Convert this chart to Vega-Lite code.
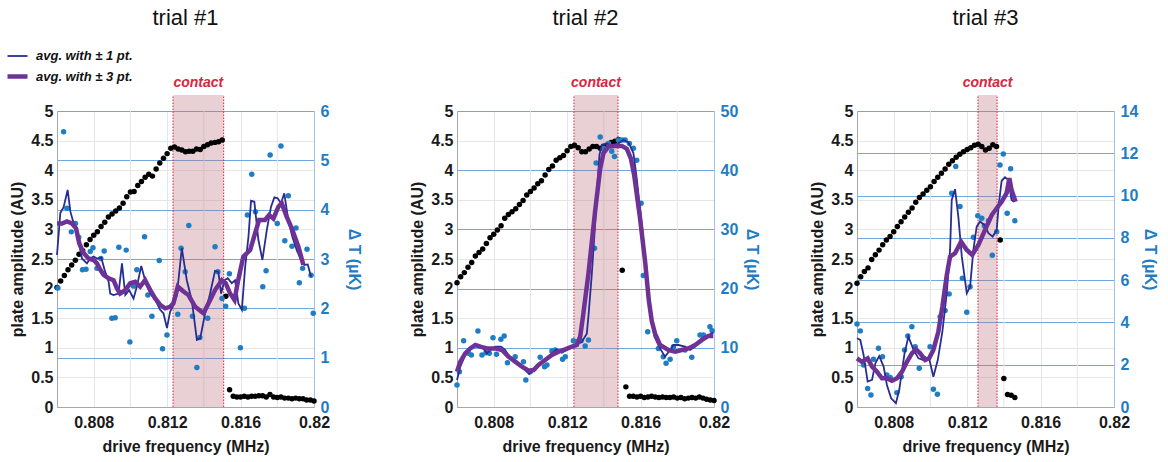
{
"$schema": "https://vega.github.io/schema/vega-lite/v6.json",
"padding": {"left": 5, "top": 6, "right": 0, "bottom": 0},
"spacing": 143,
"bounds": "flush",
"config": {
  "font": "Liberation Sans",
  "view": {"stroke": "#c8c8c8", "strokeWidth": 1},
  "axis": {"labelFontSize": 16, "labelFontWeight": "bold", "titleFontSize": 16, "titleFontWeight": "bold", "labelColor": "#1a1a1a", "titleColor": "#1a1a1a", "ticks": false, "gridColor": "#e6e6e6", "domainColor": "#a8a8a8", "labelOverlap": false, "labelFlush": false},
  "title": {"fontSize": 22, "fontWeight": "normal", "font": "Liberation Sans", "color": "#111111", "offset": 46}
},
"datasets": {
 "g": [{"f": 0.81}, {"f": 0.814}, {"f": 0.818}],
 "c1": [{"f0": 0.81232, "f1": 0.81508}],
 "r1": [{"f": 0.81232}, {"f": 0.81508}],
 "t1": [{"f": 0.8137, "y": 5.47, "t": "contact"}],
 "c2": [{"f0": 0.81237, "f1": 0.81477}],
 "r2": [{"f": 0.81237}, {"f": 0.81477}],
 "t2": [{"f": 0.81357, "y": 5.47, "t": "contact"}],
 "c3": [{"f0": 0.81259, "f1": 0.81363}],
 "r3": [{"f": 0.81259}, {"f": 0.81363}],
 "t3": [{"f": 0.81311, "y": 5.47, "t": "contact"}],
 "a1": [
  {"f":0.8060,"a":2.02},{"f":0.8062,"a":2.13},{"f":0.8064,"a":2.22},{"f":0.8066,"a":2.32},{"f":0.8068,"a":2.40},{"f":0.8070,"a":2.48},{"f":0.8072,"a":2.58},{"f":0.8074,"a":2.64},{"f":0.8076,"a":2.74},{"f":0.8078,"a":2.83},{"f":0.8080,"a":2.90},{"f":0.8082,"a":2.96},{"f":0.8084,"a":3.05},{"f":0.8086,"a":3.12},{"f":0.8088,"a":3.21},{"f":0.8090,"a":3.26},{"f":0.8092,"a":3.31},{"f":0.8094,"a":3.36},{"f":0.8096,"a":3.44},{"f":0.8098,"a":3.55},{"f":0.8100,"a":3.63},{"f":0.8102,"a":3.64},{"f":0.8104,"a":3.74},{"f":0.8106,"a":3.81},{"f":0.8108,"a":3.88},{"f":0.8110,"a":3.93},{"f":0.8112,"a":3.90},{"f":0.8114,"a":4.02},{"f":0.8116,"a":4.12},{"f":0.8118,"a":4.20},{"f":0.8120,"a":4.28},{"f":0.8122,"a":4.37},{"f":0.8124,"a":4.39},{"f":0.8126,"a":4.36},{"f":0.8128,"a":4.34},{"f":0.8130,"a":4.31},{"f":0.8132,"a":4.32},{"f":0.8134,"a":4.32},{"f":0.8136,"a":4.36},{"f":0.8138,"a":4.35},{"f":0.8140,"a":4.40},{"f":0.8142,"a":4.43},{"f":0.8144,"a":4.46},{"f":0.8146,"a":4.47},{"f":0.8148,"a":4.48},{"f":0.8150,"a":4.51},{"f":0.8152,"a":1.87},{"f":0.8154,"a":0.29},
  {"f":0.8156,"a":0.18},{"f":0.8158,"a":0.17},{"f":0.8160,"a":0.17},{"f":0.8162,"a":0.18},{"f":0.8164,"a":0.17},{"f":0.8166,"a":0.18},{"f":0.8168,"a":0.18},{"f":0.8170,"a":0.19},{"f":0.8172,"a":0.19},{"f":0.8174,"a":0.17},{"f":0.8176,"a":0.21},{"f":0.8178,"a":0.17},{"f":0.8180,"a":0.16},{"f":0.8182,"a":0.17},{"f":0.8184,"a":0.15},{"f":0.8186,"a":0.15},{"f":0.8188,"a":0.14},{"f":0.8190,"a":0.15},{"f":0.8192,"a":0.14},{"f":0.8194,"a":0.14},{"f":0.8196,"a":0.12},{"f":0.8198,"a":0.12},{"f":0.8200,"a":0.10}],
 "a2": [
  {"f":0.8060,"a":2.10},{"f":0.8062,"a":2.20},{"f":0.8064,"a":2.27},{"f":0.8066,"a":2.36},{"f":0.8068,"a":2.44},{"f":0.8070,"a":2.55},{"f":0.8072,"a":2.61},{"f":0.8074,"a":2.67},{"f":0.8076,"a":2.76},{"f":0.8078,"a":2.86},{"f":0.8080,"a":2.92},{"f":0.8082,"a":2.99},{"f":0.8084,"a":3.06},{"f":0.8086,"a":3.19},{"f":0.8088,"a":3.25},{"f":0.8090,"a":3.30},{"f":0.8092,"a":3.35},{"f":0.8094,"a":3.42},{"f":0.8096,"a":3.49},{"f":0.8098,"a":3.58},{"f":0.8100,"a":3.64},{"f":0.8102,"a":3.70},{"f":0.8104,"a":3.77},{"f":0.8106,"a":3.82},{"f":0.8108,"a":3.92},{"f":0.8110,"a":4.01},{"f":0.8112,"a":4.07},{"f":0.8114,"a":4.17},{"f":0.8116,"a":4.21},{"f":0.8118,"a":4.25},{"f":0.8120,"a":4.33},{"f":0.8122,"a":4.40},{"f":0.8124,"a":4.42},{"f":0.8126,"a":4.38},{"f":0.8128,"a":4.31},{"f":0.8130,"a":4.31},{"f":0.8132,"a":4.36},{"f":0.8134,"a":4.40},{"f":0.8136,"a":4.40},{"f":0.8138,"a":4.37},{"f":0.8140,"a":4.40},{"f":0.8142,"a":4.43},{"f":0.8144,"a":4.47},{"f":0.8146,"a":4.49},{"f":0.8148,"a":4.52},{"f":0.8150,"a":2.31},{"f":0.8152,"a":0.34},
  {"f":0.8154,"a":0.18},{"f":0.8156,"a":0.18},{"f":0.8158,"a":0.17},{"f":0.8160,"a":0.18},{"f":0.8162,"a":0.16},{"f":0.8164,"a":0.17},{"f":0.8166,"a":0.18},{"f":0.8168,"a":0.17},{"f":0.8170,"a":0.16},{"f":0.8172,"a":0.17},{"f":0.8174,"a":0.16},{"f":0.8176,"a":0.16},{"f":0.8178,"a":0.17},{"f":0.8180,"a":0.15},{"f":0.8182,"a":0.16},{"f":0.8184,"a":0.14},{"f":0.8186,"a":0.15},{"f":0.8188,"a":0.16},{"f":0.8190,"a":0.15},{"f":0.8192,"a":0.17},{"f":0.8194,"a":0.15},{"f":0.8196,"a":0.13},{"f":0.8198,"a":0.12},{"f":0.8200,"a":0.11}],
 "a3": [
  {"f":0.8060,"a":2.09},{"f":0.8062,"a":2.20},{"f":0.8064,"a":2.29},{"f":0.8066,"a":2.35},{"f":0.8068,"a":2.49},{"f":0.8070,"a":2.57},{"f":0.8072,"a":2.65},{"f":0.8074,"a":2.74},{"f":0.8076,"a":2.82},{"f":0.8078,"a":2.88},{"f":0.8080,"a":2.96},{"f":0.8082,"a":3.05},{"f":0.8084,"a":3.13},{"f":0.8086,"a":3.21},{"f":0.8088,"a":3.29},{"f":0.8090,"a":3.36},{"f":0.8092,"a":3.46},{"f":0.8094,"a":3.54},{"f":0.8096,"a":3.60},{"f":0.8098,"a":3.66},{"f":0.8100,"a":3.72},{"f":0.8102,"a":3.81},{"f":0.8104,"a":3.88},{"f":0.8106,"a":3.95},{"f":0.8108,"a":4.02},{"f":0.8110,"a":4.10},{"f":0.8112,"a":4.16},{"f":0.8114,"a":4.22},{"f":0.8116,"a":4.27},{"f":0.8118,"a":4.31},{"f":0.8120,"a":4.35},{"f":0.8122,"a":4.38},{"f":0.8124,"a":4.42},{"f":0.8126,"a":4.44},{"f":0.8128,"a":4.40},{"f":0.8130,"a":4.34},{"f":0.8132,"a":4.37},{"f":0.8134,"a":4.43},{"f":0.8136,"a":4.40},{"f":0.8138,"a":2.82},{"f":0.8140,"a":0.48},{"f":0.8142,"a":0.21},{"f":0.8144,"a":0.20},{"f":0.8146,"a":0.16}],
 "d1": [
  {"f":0.80605,"v":2.41},{"f":0.80636,"v":5.58},{"f":0.80654,"v":4.03},{"f":0.80678,"v":3.55},{"f":0.807,"v":3.72},{"f":0.80718,"v":3.44},{"f":0.80739,"v":2.78},{"f":0.80758,"v":2.79},{"f":0.80781,"v":3.15},{"f":0.80796,"v":3.23},{"f":0.80818,"v":2.81},{"f":0.80839,"v":3.01},{"f":0.80857,"v":3.16},{"f":0.80899,"v":1.80},{"f":0.80917,"v":1.81},{"f":0.80937,"v":3.24},{"f":0.80977,"v":3.18},{"f":0.80997,"v":1.32},{"f":0.81017,"v":2.45},{"f":0.81035,"v":2.78},{"f":0.81077,"v":3.45},{"f":0.81095,"v":2.27},{"f":0.81117,"v":1.84},{"f":0.81157,"v":2.97},{"f":0.81175,"v":1.18},{"f":0.81199,"v":1.46},{"f":0.81258,"v":1.88},{"f":0.81276,"v":3.22},{"f":0.81298,"v":2.74},{"f":0.81318,"v":3.68},{"f":0.81338,"v":1.84},{"f":0.81362,"v":0.80},{"f":0.81378,"v":1.41},{"f":0.81421,"v":1.80},{"f":0.81461,"v":3.25},{"f":0.81476,"v":2.74},{"f":0.81499,"v":2.20},{"f":0.81519,"v":2.04},{"f":0.81539,"v":2.70},{"f":0.81599,"v":1.20},{"f":0.81621,"v":2.00},{"f":0.81637,"v":3.89},{"f":0.81661,"v":4.72},{"f":0.81681,"v":3.96},{"f":0.81721,"v":2.44},{"f":0.81739,"v":2.76},{"f":0.81761,"v":5.11},{"f":0.818,"v":3.72},{"f":0.8182,"v":5.29},{"f":0.81841,"v":3.37},{"f":0.8186,"v":4.28},{"f":0.8188,"v":3.26},{"f":0.81902,"v":3.63},{"f":0.8192,"v":2.52},{"f":0.81938,"v":2.81},{"f":0.81962,"v":3.20},{"f":0.81984,"v":2.67},{"f":0.81996,"v":1.90}],
 "d2": [
  {"f":0.806,"v":3.72},{"f":0.80613,"v":5.96},{"f":0.80636,"v":11.2},{"f":0.80663,"v":9.07},{"f":0.80678,"v":8.78},{"f":0.80714,"v":12.84},{"f":0.80736,"v":8.78},{"f":0.80758,"v":9.17},{"f":0.80776,"v":9.07},{"f":0.80796,"v":11.7},{"f":0.80815,"v":8.9},{"f":0.80839,"v":11.44},{"f":0.80857,"v":12.0},{"f":0.80875,"v":7.48},{"f":0.80917,"v":8.5},{"f":0.80962,"v":7.65},{"f":0.80975,"v":4.56},{"f":0.80999,"v":5.96},{"f":0.81053,"v":8.4},{"f":0.81077,"v":6.81},{"f":0.8109,"v":7.1},{"f":0.81117,"v":9.46},{"f":0.81135,"v":9.63},{"f":0.81175,"v":8.06},{"f":0.8119,"v":8.5},{"f":0.81234,"v":11.2},{"f":0.81253,"v":11.03},{"f":0.81276,"v":11.2},{"f":0.81298,"v":10.3},{"f":0.81316,"v":11.3},{"f":0.81349,"v":26.8},{"f":0.81358,"v":41.2},{"f":0.8138,"v":45.6},{"f":0.81398,"v":43.7},{"f":0.81425,"v":44.5},{"f":0.81443,"v":43.2},{"f":0.81458,"v":42.3},{"f":0.81479,"v":45.1},{"f":0.81501,"v":45.1},{"f":0.81516,"v":45.1},{"f":0.81539,"v":44.5},{"f":0.81561,"v":43.7},{"f":0.81579,"v":41.7},{"f":0.81603,"v":34.4},{"f":0.81615,"v":22.2},{"f":0.81639,"v":12.72},{"f":0.81697,"v":9.9},{"f":0.81724,"v":8.5},{"f":0.81739,"v":7.38},{"f":0.81761,"v":8.06},{"f":0.81779,"v":10.19},{"f":0.81797,"v":11.2},{"f":0.81842,"v":9.63},{"f":0.81879,"v":8.4},{"f":0.81924,"v":12.16},{"f":0.81942,"v":12.16},{"f":0.81978,"v":13.56},{"f":0.8199,"v":12.9}],
 "d3": [
  {"f":0.806,"v":3.93},{"f":0.80618,"v":3.6},{"f":0.80636,"v":1.99},{"f":0.80658,"v":0.88},{"f":0.80676,"v":0.57},{"f":0.8069,"v":2.26},{"f":0.80717,"v":2.78},{"f":0.80739,"v":2.38},{"f":0.80763,"v":1.51},{"f":0.80781,"v":1.39},{"f":0.80817,"v":0.68},{"f":0.80841,"v":1.43},{"f":0.80859,"v":2.70},{"f":0.80877,"v":3.36},{"f":0.80899,"v":3.8},{"f":0.80917,"v":2.85},{"f":0.80939,"v":1.83},{"f":0.80966,"v":2.30},{"f":0.80998,"v":2.85},{"f":0.81016,"v":0.84},{"f":0.81038,"v":0.60},{"f":0.81053,"v":4.27},{"f":0.8108,"v":4.56},{"f":0.81102,"v":5.35},{"f":0.81116,"v":10.11},{"f":0.81138,"v":11.37},{"f":0.81161,"v":9.48},{"f":0.81174,"v":6.09},{"f":0.81198,"v":4.48},{"f":0.81216,"v":5.69},{"f":0.81234,"v":8.03},{"f":0.81258,"v":9.05},{"f":0.8128,"v":8.93},{"f":0.81294,"v":8.56},{"f":0.81316,"v":8.81},{"f":0.81337,"v":7.18},{"f":0.81361,"v":8.29},{"f":0.81379,"v":11.45},{"f":0.81397,"v":11.97},{"f":0.81418,"v":9.16},{"f":0.81437,"v":11.27},{"f":0.8146,"v":8.81}],
 "l1": [
  {"s":"1","f":0.806,"v":3.08},{"s":"1","f":0.80618,"v":3.93},{"s":"1","f":0.80636,"v":4.05},{"s":"1","f":0.80658,"v":4.40},{"s":"1","f":0.80673,"v":3.96},{"s":"1","f":0.80691,"v":3.72},{"s":"1","f":0.80709,"v":3.52},{"s":"1","f":0.80736,"v":3.01},{"s":"1","f":0.80763,"v":2.91},{"s":"1","f":0.80781,"v":3.01},{"s":"1","f":0.80799,"v":3.05},{"s":"1","f":0.80818,"v":3.01},{"s":"1","f":0.80841,"v":3.03},{"s":"1","f":0.80859,"v":2.78},{"s":"1","f":0.80881,"v":2.54},{"s":"1","f":0.8089,"v":2.30},{"s":"1","f":0.80908,"v":2.27},{"s":"1","f":0.80935,"v":2.30},{"s":"1","f":0.80954,"v":2.91},{"s":"1","f":0.80972,"v":2.27},{"s":"1","f":0.80993,"v":2.37},{"s":"1","f":0.81017,"v":2.20},{"s":"1","f":0.81035,"v":2.44},{"s":"1","f":0.81059,"v":2.86},{"s":"1","f":0.8108,"v":2.57},{"s":"1","f":0.81108,"v":2.30},{"s":"1","f":0.81135,"v":2.17},{"s":"1","f":0.81162,"v":1.97},{"s":"1","f":0.8118,"v":1.90},{"s":"1","f":0.81199,"v":1.60},{"s":"1","f":0.81216,"v":1.93},{"s":"1","f":0.81234,"v":2.07},{"s":"1","f":0.81253,"v":2.27},{"s":"1","f":0.8128,"v":3.22},{"s":"1","f":0.81307,"v":2.57},{"s":"1","f":0.81334,"v":2.17},{"s":"1","f":0.81362,"v":1.36},{"s":"1","f":0.8138,"v":1.39},{"s":"1","f":0.81407,"v":1.90},{"s":"1","f":0.81434,"v":2.30},{"s":"1","f":0.81461,"v":2.76},{"s":"1","f":0.81479,"v":2.74},{"s":"1","f":0.81494,"v":2.30},{"s":"1","f":0.81512,"v":2.57},{"s":"1","f":0.8153,"v":2.61},{"s":"1","f":0.81552,"v":2.51},{"s":"1","f":0.8157,"v":2.57},{"s":"1","f":0.81588,"v":2.10},{"s":"1","f":0.81607,"v":1.97},{"s":"1","f":0.81625,"v":2.84},{"s":"1","f":0.81643,"v":3.45},{"s":"1","f":0.81657,"v":4.18},{"s":"1","f":0.81675,"v":4.16},{"s":"1","f":0.81697,"v":3.39},{"s":"1","f":0.81719,"v":2.98},{"s":"1","f":0.81743,"v":3.59},{"s":"1","f":0.81766,"v":4.06},{"s":"1","f":0.81784,"v":4.25},{"s":"1","f":0.81802,"v":4.23},{"s":"1","f":0.8182,"v":4.13},{"s":"1","f":0.81838,"v":4.33},{"s":"1","f":0.8186,"v":3.79},{"s":"1","f":0.81882,"v":3.45},{"s":"1","f":0.81906,"v":3.18},{"s":"1","f":0.81929,"v":2.98},{"s":"1","f":0.81947,"v":2.88},{"s":"1","f":0.81966,"v":2.89},{"s":"1","f":0.81984,"v":2.64},
  {"s":"3","f":0.806,"v":3.72},{"s":"3","f":0.80627,"v":3.72},{"s":"3","f":0.80654,"v":3.76},{"s":"3","f":0.80682,"v":3.72},{"s":"3","f":0.80704,"v":3.62},{"s":"3","f":0.80721,"v":3.32},{"s":"3","f":0.80745,"v":3.12},{"s":"3","f":0.80772,"v":3.01},{"s":"3","f":0.80799,"v":2.98},{"s":"3","f":0.80818,"v":2.91},{"s":"3","f":0.80836,"v":2.78},{"s":"3","f":0.80854,"v":2.68},{"s":"3","f":0.80881,"v":2.61},{"s":"3","f":0.80908,"v":2.57},{"s":"3","f":0.80926,"v":2.41},{"s":"3","f":0.80944,"v":2.30},{"s":"3","f":0.80972,"v":2.37},{"s":"3","f":0.80999,"v":2.51},{"s":"3","f":0.81026,"v":2.54},{"s":"3","f":0.81053,"v":2.44},{"s":"3","f":0.8108,"v":2.57},{"s":"3","f":0.81108,"v":2.37},{"s":"3","f":0.81135,"v":2.20},{"s":"3","f":0.81162,"v":2.07},{"s":"3","f":0.81189,"v":2.00},{"s":"3","f":0.81216,"v":2.03},{"s":"3","f":0.81234,"v":2.10},{"s":"3","f":0.81258,"v":2.44},{"s":"3","f":0.81289,"v":2.34},{"s":"3","f":0.81316,"v":2.27},{"s":"3","f":0.81353,"v":2.03},{"s":"3","f":0.81398,"v":1.90},{"s":"3","f":0.81425,"v":2.10},{"s":"3","f":0.81461,"v":2.37},{"s":"3","f":0.81498,"v":2.57},{"s":"3","f":0.81519,"v":2.51},{"s":"3","f":0.81543,"v":2.30},{"s":"3","f":0.81567,"v":2.17},{"s":"3","f":0.81587,"v":2.57},{"s":"3","f":0.81615,"v":3.05},{"s":"3","f":0.81652,"v":3.18},{"s":"3","f":0.81679,"v":3.52},{"s":"3","f":0.81701,"v":3.79},{"s":"3","f":0.81733,"v":3.79},{"s":"3","f":0.81755,"v":3.89},{"s":"3","f":0.81779,"v":3.82},{"s":"3","f":0.81806,"v":4.06},{"s":"3","f":0.81824,"v":4.13},{"s":"3","f":0.81851,"v":3.86},{"s":"3","f":0.81879,"v":3.62},{"s":"3","f":0.81915,"v":3.25},{"s":"3","f":0.81942,"v":2.88}],
 "l2": [
  {"s":"1","f":0.806,"v":4.56},{"s":"1","f":0.80618,"v":6.8},{"s":"1","f":0.80645,"v":8.78},{"s":"1","f":0.80663,"v":9.6},{"s":"1","f":0.807,"v":10.47},{"s":"1","f":0.80736,"v":10.19},{"s":"1","f":0.80763,"v":9.07},{"s":"1","f":0.80781,"v":9.63},{"s":"1","f":0.80808,"v":10.19},{"s":"1","f":0.8084,"v":10.19},{"s":"1","f":0.80863,"v":9.63},{"s":"1","f":0.8089,"v":8.22},{"s":"1","f":0.80926,"v":7.38},{"s":"1","f":0.80962,"v":6.53},{"s":"1","f":0.80993,"v":5.57},{"s":"1","f":0.81026,"v":6.53},{"s":"1","f":0.81053,"v":7.38},{"s":"1","f":0.8109,"v":8.22},{"s":"1","f":0.81117,"v":9.07},{"s":"1","f":0.81144,"v":9.74},{"s":"1","f":0.81171,"v":9.17},{"s":"1","f":0.81198,"v":9.63},{"s":"1","f":0.81226,"v":10.19},{"s":"1","f":0.81262,"v":10.75},{"s":"1","f":0.8128,"v":11.0},{"s":"1","f":0.81307,"v":12.4},{"s":"1","f":0.81316,"v":15.3},{"s":"1","f":0.81334,"v":22.3},{"s":"1","f":0.81352,"v":30.7},{"s":"1","f":0.81365,"v":37.5},{"s":"1","f":0.81376,"v":42.6},{"s":"1","f":0.81389,"v":44.3},{"s":"1","f":0.81416,"v":44.5},{"s":"1","f":0.81452,"v":44.0},{"s":"1","f":0.81479,"v":44.5},{"s":"1","f":0.81507,"v":45.1},{"s":"1","f":0.81534,"v":44.7},{"s":"1","f":0.81561,"v":42.9},{"s":"1","f":0.81579,"v":38.6},{"s":"1","f":0.81607,"v":30.7},{"s":"1","f":0.81634,"v":22.3},{"s":"1","f":0.81655,"v":15.5},{"s":"1","f":0.81675,"v":11.9},{"s":"1","f":0.81706,"v":9.9},{"s":"1","f":0.81733,"v":8.5},{"s":"1","f":0.81761,"v":9.63},{"s":"1","f":0.81779,"v":10.47},{"s":"1","f":0.81806,"v":10.47},{"s":"1","f":0.81842,"v":10.19},{"s":"1","f":0.8187,"v":9.63},{"s":"1","f":0.81897,"v":10.19},{"s":"1","f":0.81933,"v":11.6},{"s":"1","f":0.81969,"v":12.16},{"s":"1","f":0.81996,"v":12.55},
  {"s":"3","f":0.806,"v":5.97},{"s":"3","f":0.80618,"v":7.66},{"s":"3","f":0.80645,"v":9.06},{"s":"3","f":0.80672,"v":9.9},{"s":"3","f":0.807,"v":10.47},{"s":"3","f":0.80727,"v":10.19},{"s":"3","f":0.80763,"v":9.9},{"s":"3","f":0.80808,"v":9.9},{"s":"3","f":0.80845,"v":9.63},{"s":"3","f":0.80881,"v":8.5},{"s":"3","f":0.80917,"v":7.66},{"s":"3","f":0.80954,"v":6.81},{"s":"3","f":0.8099,"v":6.14},{"s":"3","f":0.81017,"v":6.25},{"s":"3","f":0.81044,"v":7.09},{"s":"3","f":0.8108,"v":7.94},{"s":"3","f":0.81117,"v":8.78},{"s":"3","f":0.81153,"v":9.34},{"s":"3","f":0.81189,"v":9.74},{"s":"3","f":0.81226,"v":10.19},{"s":"3","f":0.81253,"v":10.47},{"s":"3","f":0.81271,"v":11.88},{"s":"3","f":0.81285,"v":15.0},{"s":"3","f":0.81316,"v":22.5},{"s":"3","f":0.81352,"v":33.0},{"s":"3","f":0.8138,"v":40.3},{"s":"3","f":0.81398,"v":42.9},{"s":"3","f":0.81425,"v":44.0},{"s":"3","f":0.81461,"v":44.1},{"s":"3","f":0.81498,"v":44.1},{"s":"3","f":0.81525,"v":43.6},{"s":"3","f":0.81547,"v":42.0},{"s":"3","f":0.81565,"v":39.2},{"s":"3","f":0.81597,"v":31.9},{"s":"3","f":0.81625,"v":24.5},{"s":"3","f":0.81645,"v":18.0},{"s":"3","f":0.81661,"v":14.5},{"s":"3","f":0.81679,"v":12.4},{"s":"3","f":0.81706,"v":10.5},{"s":"3","f":0.81751,"v":9.63},{"s":"3","f":0.81788,"v":9.34},{"s":"3","f":0.81824,"v":9.63},{"s":"3","f":0.8186,"v":9.9},{"s":"3","f":0.81897,"v":10.47},{"s":"3","f":0.81933,"v":11.3},{"s":"3","f":0.81969,"v":12.0},{"s":"3","f":0.81996,"v":12.0}],
 "l3": [
  {"s":"1","f":0.806,"v":3.25},{"s":"1","f":0.80618,"v":3.17},{"s":"1","f":0.80636,"v":2.46},{"s":"1","f":0.80658,"v":1.2},{"s":"1","f":0.80682,"v":1.28},{"s":"1","f":0.807,"v":2.07},{"s":"1","f":0.80721,"v":2.41},{"s":"1","f":0.80745,"v":1.91},{"s":"1","f":0.80763,"v":1.04},{"s":"1","f":0.80786,"v":0.41},{"s":"1","f":0.80812,"v":0.18},{"s":"1","f":0.8083,"v":0.80},{"s":"1","f":0.80859,"v":2.54},{"s":"1","f":0.8088,"v":3.33},{"s":"1","f":0.80908,"v":2.70},{"s":"1","f":0.80935,"v":2.30},{"s":"1","f":0.80962,"v":2.22},{"s":"1","f":0.80993,"v":2.30},{"s":"1","f":0.81016,"v":1.43},{"s":"1","f":0.8104,"v":2.22},{"s":"1","f":0.81065,"v":3.56},{"s":"1","f":0.81089,"v":5.38},{"s":"1","f":0.81107,"v":7.43},{"s":"1","f":0.81116,"v":9.79},{"s":"1","f":0.81134,"v":10.3},{"s":"1","f":0.81152,"v":9.0},{"s":"1","f":0.81171,"v":7.11},{"s":"1","f":0.81198,"v":5.38},{"s":"1","f":0.81216,"v":5.69},{"s":"1","f":0.81234,"v":7.43},{"s":"1","f":0.81252,"v":8.53},{"s":"1","f":0.8127,"v":8.77},{"s":"1","f":0.81294,"v":8.61},{"s":"1","f":0.81316,"v":8.22},{"s":"1","f":0.81339,"v":8.06},{"s":"1","f":0.81361,"v":8.37},{"s":"1","f":0.81373,"v":9.64},{"s":"1","f":0.81388,"v":10.7},{"s":"1","f":0.81406,"v":10.87},{"s":"1","f":0.81424,"v":10.74},{"s":"1","f":0.81442,"v":9.79},{"s":"1","f":0.81455,"v":9.71},
  {"s":"3","f":0.806,"v":2.30},{"s":"3","f":0.80627,"v":2.14},{"s":"3","f":0.80658,"v":2.30},{"s":"3","f":0.80682,"v":1.91},{"s":"3","f":0.80709,"v":1.67},{"s":"3","f":0.80736,"v":1.36},{"s":"3","f":0.80763,"v":1.36},{"s":"3","f":0.8079,"v":1.24},{"s":"3","f":0.80818,"v":1.36},{"s":"3","f":0.80845,"v":1.67},{"s":"3","f":0.80872,"v":2.14},{"s":"3","f":0.80899,"v":2.54},{"s":"3","f":0.80921,"v":2.73},{"s":"3","f":0.80944,"v":2.54},{"s":"3","f":0.80971,"v":2.22},{"s":"3","f":0.80993,"v":2.30},{"s":"3","f":0.81016,"v":2.70},{"s":"3","f":0.81043,"v":3.56},{"s":"3","f":0.81065,"v":4.74},{"s":"3","f":0.81089,"v":6.24},{"s":"3","f":0.81107,"v":7.11},{"s":"3","f":0.81134,"v":7.27},{"s":"3","f":0.81167,"v":7.82},{"s":"3","f":0.81198,"v":7.43},{"s":"3","f":0.81228,"v":7.19},{"s":"3","f":0.81261,"v":7.66},{"s":"3","f":0.81297,"v":8.37},{"s":"3","f":0.81334,"v":9.08},{"s":"3","f":0.81361,"v":9.40},{"s":"3","f":0.81388,"v":9.71},{"s":"3","f":0.81415,"v":10.11},{"s":"3","f":0.8143,"v":10.82},{"s":"3","f":0.81442,"v":10.26},{"s":"3","f":0.81464,"v":9.71}]
},
"hconcat": [
 {"width": 257, "height": 296, "title": {"text": "trial #1"}, "resolve": {"scale": {"y": "independent"}},
  "layer": [
   {"layer": [
     {"data": {"name": "g"}, "mark": {"type": "rule", "color": "#e6e6e6", "strokeWidth": 1},
      "encoding": {"x": {"field": "f", "type": "quantitative", "title": "drive frequency (MHz)", "scale": {"domain": [0.806, 0.82], "nice": false, "zero": false}, "axis": {"values": [0.808, 0.812, 0.816, 0.82], "format": ".3~f", "grid": true, "labelPadding": 7, "titlePadding": 8}},
        "y": {"datum": 0, "type": "quantitative", "title": "plate amplitude (AU)", "scale": {"domain": [0, 5], "nice": false}, "axis": {"values": [0,0.5,1,1.5,2,2.5,3,3.5,4,4.5,5], "format": "~g", "grid": true, "labelPadding": 4, "titlePadding": 5}},
        "y2": {"datum": 5}}},
     {"data": {"name": "c1"}, "mark": {"type": "rect", "clip": false, "fill": "#b8707e", "opacity": 0.33},
      "encoding": {"x": {"field": "f0", "type": "quantitative", "title": "drive frequency (MHz)", "axis": {"values": [0.808, 0.812, 0.816, 0.82], "format": ".3~f", "grid": true, "labelPadding": 7, "titlePadding": 8}},
        "x2": {"field": "f1"},
        "y": {"datum": 0, "type": "quantitative", "title": "plate amplitude (AU)", "axis": {"values": [0,0.5,1,1.5,2,2.5,3,3.5,4,4.5,5], "format": "~g", "grid": true, "labelPadding": 4, "titlePadding": 5}},
        "y2": {"datum": 5.27}}},
     {"data": {"name": "r1"}, "mark": {"type": "rule", "clip": false, "color": "#d7263d", "strokeDash": [1.5, 1.5], "strokeWidth": 1},
      "encoding": {"x": {"field": "f", "type": "quantitative", "title": "drive frequency (MHz)", "axis": {"values": [0.808, 0.812, 0.816, 0.82], "format": ".3~f", "grid": true, "labelPadding": 7, "titlePadding": 8}},
        "y": {"datum": 0, "type": "quantitative", "title": "plate amplitude (AU)", "axis": {"values": [0,0.5,1,1.5,2,2.5,3,3.5,4,4.5,5], "format": "~g", "grid": true, "labelPadding": 4, "titlePadding": 5}}, "y2": {"datum": 5.27}}},
     {"data": {"name": "t1"}, "mark": {"type": "text", "clip": false, "color": "#d7263d", "fontSize": 14, "fontStyle": "italic", "fontWeight": "bold", "baseline": "middle"},
      "encoding": {"x": {"field": "f", "type": "quantitative", "title": "drive frequency (MHz)", "axis": {"values": [0.808, 0.812, 0.816, 0.82], "format": ".3~f", "grid": true, "labelPadding": 7, "titlePadding": 8}},
        "y": {"field": "y", "type": "quantitative", "title": "plate amplitude (AU)", "axis": {"values": [0,0.5,1,1.5,2,2.5,3,3.5,4,4.5,5], "format": "~g", "grid": true, "labelPadding": 4, "titlePadding": 5}}, "text": {"field": "t"}}},
     {"data": {"name": "a1"}, "mark": {"type": "circle", "size": 30, "color": "#000000", "opacity": 1},
      "encoding": {"x": {"field": "f", "type": "quantitative", "title": "drive frequency (MHz)", "axis": {"values": [0.808, 0.812, 0.816, 0.82], "format": ".3~f", "grid": true, "labelPadding": 7, "titlePadding": 8}},
        "y": {"field": "a", "type": "quantitative", "title": "plate amplitude (AU)", "axis": {"values": [0,0.5,1,1.5,2,2.5,3,3.5,4,4.5,5], "format": "~g", "grid": true, "labelPadding": 4, "titlePadding": 5}}}}
   ]},
   {"layer": [
     {"data": {"name": "d1"}, "mark": {"type": "circle", "size": 30, "color": "#1f7dc3", "opacity": 1},
      "encoding": {"x": {"field": "f", "type": "quantitative", "title": "drive frequency (MHz)", "axis": {"values": [0.808, 0.812, 0.816, 0.82], "format": ".3~f", "grid": true, "labelPadding": 7, "titlePadding": 8}},
        "y": {"field": "v", "type": "quantitative", "title": "Δ T (µK)", "scale": {"domain": [0, 6], "nice": false}, "axis": {"orient": "right", "values": [0,1,2,3,4,5,6], "grid": true, "gridColor": "#6fa8dc", "labelColor": "#1f7dc3", "titleColor": "#1f7dc3", "domainColor": "#9cc4e8", "labelPadding": 6, "titlePadding": 17}}}},
     {"data": {"name": "l1"}, "mark": {"type": "line"},
      "encoding": {"x": {"field": "f", "type": "quantitative", "title": "drive frequency (MHz)", "axis": {"values": [0.808, 0.812, 0.816, 0.82], "format": ".3~f", "grid": true, "labelPadding": 7, "titlePadding": 8}},
        "y": {"field": "v", "type": "quantitative", "title": "Δ T (µK)", "axis": {"orient": "right", "values": [0,1,2,3,4,5,6], "grid": true, "gridColor": "#6fa8dc", "labelColor": "#1f7dc3", "titleColor": "#1f7dc3", "domainColor": "#9cc4e8", "labelPadding": 6, "titlePadding": 17}},
        "color": {"field": "s", "type": "ordinal", "scale": {"domain": ["1", "3"], "range": ["#282d91", "#6e3296"]}, "legend": {"title": null, "orient": "none", "legendX": -52, "legendY": -66, "symbolType": "stroke", "symbolSize": 400, "labelFontSize": 13, "labelFontStyle": "italic", "labelFontWeight": "bold", "labelColor": "#111111", "rowPadding": 1, "labelOffset": 6, "labelExpr": "'avg. with ± ' + datum.label + ' pt.'"}},
        "strokeWidth": {"field": "s", "type": "ordinal", "scale": {"domain": ["1", "3"], "range": [1.8, 4.5]}, "legend": {"title": null, "orient": "none", "legendX": -52, "legendY": -66, "symbolType": "stroke", "symbolSize": 400, "labelFontSize": 13, "labelFontStyle": "italic", "labelFontWeight": "bold", "labelColor": "#111111", "rowPadding": 1, "labelOffset": 6, "labelExpr": "'avg. with ± ' + datum.label + ' pt.'"}}}}
   ]}
  ]},
 {"width": 257, "height": 296, "title": {"text": "trial #2"}, "resolve": {"scale": {"y": "independent"}},
  "layer": [
   {"layer": [
     {"data": {"name": "g"}, "mark": {"type": "rule", "color": "#e6e6e6", "strokeWidth": 1},
      "encoding": {"x": {"field": "f", "type": "quantitative", "title": "drive frequency (MHz)", "scale": {"domain": [0.806, 0.82], "nice": false, "zero": false}, "axis": {"values": [0.808, 0.812, 0.816, 0.82], "format": ".3~f", "grid": true, "labelPadding": 7, "titlePadding": 8}},
        "y": {"datum": 0, "type": "quantitative", "title": "plate amplitude (AU)", "scale": {"domain": [0, 5], "nice": false}, "axis": {"values": [0,0.5,1,1.5,2,2.5,3,3.5,4,4.5,5], "format": "~g", "grid": true, "labelPadding": 4, "titlePadding": 5}},
        "y2": {"datum": 5}}},
     {"data": {"name": "c2"}, "mark": {"type": "rect", "clip": false, "fill": "#b8707e", "opacity": 0.33},
      "encoding": {"x": {"field": "f0", "type": "quantitative", "title": "drive frequency (MHz)", "axis": {"values": [0.808, 0.812, 0.816, 0.82], "format": ".3~f", "grid": true, "labelPadding": 7, "titlePadding": 8}},
        "x2": {"field": "f1"},
        "y": {"datum": 0, "type": "quantitative", "title": "plate amplitude (AU)", "axis": {"values": [0,0.5,1,1.5,2,2.5,3,3.5,4,4.5,5], "format": "~g", "grid": true, "labelPadding": 4, "titlePadding": 5}},
        "y2": {"datum": 5.27}}},
     {"data": {"name": "r2"}, "mark": {"type": "rule", "clip": false, "color": "#d7263d", "strokeDash": [1.5, 1.5], "strokeWidth": 1},
      "encoding": {"x": {"field": "f", "type": "quantitative", "title": "drive frequency (MHz)", "axis": {"values": [0.808, 0.812, 0.816, 0.82], "format": ".3~f", "grid": true, "labelPadding": 7, "titlePadding": 8}},
        "y": {"datum": 0, "type": "quantitative", "title": "plate amplitude (AU)", "axis": {"values": [0,0.5,1,1.5,2,2.5,3,3.5,4,4.5,5], "format": "~g", "grid": true, "labelPadding": 4, "titlePadding": 5}}, "y2": {"datum": 5.27}}},
     {"data": {"name": "t2"}, "mark": {"type": "text", "clip": false, "color": "#d7263d", "fontSize": 14, "fontStyle": "italic", "fontWeight": "bold", "baseline": "middle"},
      "encoding": {"x": {"field": "f", "type": "quantitative", "title": "drive frequency (MHz)", "axis": {"values": [0.808, 0.812, 0.816, 0.82], "format": ".3~f", "grid": true, "labelPadding": 7, "titlePadding": 8}},
        "y": {"field": "y", "type": "quantitative", "title": "plate amplitude (AU)", "axis": {"values": [0,0.5,1,1.5,2,2.5,3,3.5,4,4.5,5], "format": "~g", "grid": true, "labelPadding": 4, "titlePadding": 5}}, "text": {"field": "t"}}},
     {"data": {"name": "a2"}, "mark": {"type": "circle", "size": 30, "color": "#000000", "opacity": 1},
      "encoding": {"x": {"field": "f", "type": "quantitative", "title": "drive frequency (MHz)", "axis": {"values": [0.808, 0.812, 0.816, 0.82], "format": ".3~f", "grid": true, "labelPadding": 7, "titlePadding": 8}},
        "y": {"field": "a", "type": "quantitative", "title": "plate amplitude (AU)", "axis": {"values": [0,0.5,1,1.5,2,2.5,3,3.5,4,4.5,5], "format": "~g", "grid": true, "labelPadding": 4, "titlePadding": 5}}}}
   ]},
   {"layer": [
     {"data": {"name": "d2"}, "mark": {"type": "circle", "size": 30, "color": "#1f7dc3", "opacity": 1},
      "encoding": {"x": {"field": "f", "type": "quantitative", "title": "drive frequency (MHz)", "axis": {"values": [0.808, 0.812, 0.816, 0.82], "format": ".3~f", "grid": true, "labelPadding": 7, "titlePadding": 8}},
        "y": {"field": "v", "type": "quantitative", "title": "Δ T (µK)", "scale": {"domain": [0, 50], "nice": false}, "axis": {"orient": "right", "values": [0,10,20,30,40,50], "grid": true, "gridColor": "#6fa8dc", "labelColor": "#1f7dc3", "titleColor": "#1f7dc3", "domainColor": "#9cc4e8", "labelPadding": 6, "titlePadding": 6}}}},
     {"data": {"name": "l2"}, "mark": {"type": "line"},
      "encoding": {"x": {"field": "f", "type": "quantitative", "title": "drive frequency (MHz)", "axis": {"values": [0.808, 0.812, 0.816, 0.82], "format": ".3~f", "grid": true, "labelPadding": 7, "titlePadding": 8}},
        "y": {"field": "v", "type": "quantitative", "title": "Δ T (µK)", "axis": {"orient": "right", "values": [0,10,20,30,40,50], "grid": true, "gridColor": "#6fa8dc", "labelColor": "#1f7dc3", "titleColor": "#1f7dc3", "domainColor": "#9cc4e8", "labelPadding": 6, "titlePadding": 6}},
        "color": {"field": "s", "type": "ordinal", "scale": {"domain": ["1", "3"], "range": ["#282d91", "#6e3296"]}, "legend": {"title": null, "orient": "none", "legendX": -52, "legendY": -66, "symbolType": "stroke", "symbolSize": 400, "labelFontSize": 13, "labelFontStyle": "italic", "labelFontWeight": "bold", "labelColor": "#111111", "rowPadding": 1, "labelOffset": 6, "labelExpr": "'avg. with ± ' + datum.label + ' pt.'"}},
        "strokeWidth": {"field": "s", "type": "ordinal", "scale": {"domain": ["1", "3"], "range": [1.8, 4.5]}, "legend": {"title": null, "orient": "none", "legendX": -52, "legendY": -66, "symbolType": "stroke", "symbolSize": 400, "labelFontSize": 13, "labelFontStyle": "italic", "labelFontWeight": "bold", "labelColor": "#111111", "rowPadding": 1, "labelOffset": 6, "labelExpr": "'avg. with ± ' + datum.label + ' pt.'"}}}}
   ]}
  ]},
 {"width": 257, "height": 296, "title": {"text": "trial #3"}, "resolve": {"scale": {"y": "independent"}},
  "layer": [
   {"layer": [
     {"data": {"name": "g"}, "mark": {"type": "rule", "color": "#e6e6e6", "strokeWidth": 1},
      "encoding": {"x": {"field": "f", "type": "quantitative", "title": "drive frequency (MHz)", "scale": {"domain": [0.806, 0.82], "nice": false, "zero": false}, "axis": {"values": [0.808, 0.812, 0.816, 0.82], "format": ".3~f", "grid": true, "labelPadding": 7, "titlePadding": 8}},
        "y": {"datum": 0, "type": "quantitative", "title": "plate amplitude (AU)", "scale": {"domain": [0, 5], "nice": false}, "axis": {"values": [0,0.5,1,1.5,2,2.5,3,3.5,4,4.5,5], "format": "~g", "grid": true, "labelPadding": 4, "titlePadding": 5}},
        "y2": {"datum": 5}}},
     {"data": {"name": "c3"}, "mark": {"type": "rect", "clip": false, "fill": "#b8707e", "opacity": 0.33},
      "encoding": {"x": {"field": "f0", "type": "quantitative", "title": "drive frequency (MHz)", "axis": {"values": [0.808, 0.812, 0.816, 0.82], "format": ".3~f", "grid": true, "labelPadding": 7, "titlePadding": 8}},
        "x2": {"field": "f1"},
        "y": {"datum": 0, "type": "quantitative", "title": "plate amplitude (AU)", "axis": {"values": [0,0.5,1,1.5,2,2.5,3,3.5,4,4.5,5], "format": "~g", "grid": true, "labelPadding": 4, "titlePadding": 5}},
        "y2": {"datum": 5.27}}},
     {"data": {"name": "r3"}, "mark": {"type": "rule", "clip": false, "color": "#d7263d", "strokeDash": [1.5, 1.5], "strokeWidth": 1},
      "encoding": {"x": {"field": "f", "type": "quantitative", "title": "drive frequency (MHz)", "axis": {"values": [0.808, 0.812, 0.816, 0.82], "format": ".3~f", "grid": true, "labelPadding": 7, "titlePadding": 8}},
        "y": {"datum": 0, "type": "quantitative", "title": "plate amplitude (AU)", "axis": {"values": [0,0.5,1,1.5,2,2.5,3,3.5,4,4.5,5], "format": "~g", "grid": true, "labelPadding": 4, "titlePadding": 5}}, "y2": {"datum": 5.27}}},
     {"data": {"name": "t3"}, "mark": {"type": "text", "clip": false, "color": "#d7263d", "fontSize": 14, "fontStyle": "italic", "fontWeight": "bold", "baseline": "middle"},
      "encoding": {"x": {"field": "f", "type": "quantitative", "title": "drive frequency (MHz)", "axis": {"values": [0.808, 0.812, 0.816, 0.82], "format": ".3~f", "grid": true, "labelPadding": 7, "titlePadding": 8}},
        "y": {"field": "y", "type": "quantitative", "title": "plate amplitude (AU)", "axis": {"values": [0,0.5,1,1.5,2,2.5,3,3.5,4,4.5,5], "format": "~g", "grid": true, "labelPadding": 4, "titlePadding": 5}}, "text": {"field": "t"}}},
     {"data": {"name": "a3"}, "mark": {"type": "circle", "size": 30, "color": "#000000", "opacity": 1},
      "encoding": {"x": {"field": "f", "type": "quantitative", "title": "drive frequency (MHz)", "axis": {"values": [0.808, 0.812, 0.816, 0.82], "format": ".3~f", "grid": true, "labelPadding": 7, "titlePadding": 8}},
        "y": {"field": "a", "type": "quantitative", "title": "plate amplitude (AU)", "axis": {"values": [0,0.5,1,1.5,2,2.5,3,3.5,4,4.5,5], "format": "~g", "grid": true, "labelPadding": 4, "titlePadding": 5}}}}
   ]},
   {"layer": [
     {"data": {"name": "d3"}, "mark": {"type": "circle", "size": 30, "color": "#1f7dc3", "opacity": 1},
      "encoding": {"x": {"field": "f", "type": "quantitative", "title": "drive frequency (MHz)", "axis": {"values": [0.808, 0.812, 0.816, 0.82], "format": ".3~f", "grid": true, "labelPadding": 7, "titlePadding": 8}},
        "y": {"field": "v", "type": "quantitative", "title": "Δ T (µK)", "scale": {"domain": [0, 14], "nice": false}, "axis": {"orient": "right", "values": [0,2,4,6,8,10,12,14], "grid": true, "gridColor": "#6fa8dc", "labelColor": "#1f7dc3", "titleColor": "#1f7dc3", "domainColor": "#9cc4e8", "labelPadding": 6, "titlePadding": 4}}}},
     {"data": {"name": "l3"}, "mark": {"type": "line"},
      "encoding": {"x": {"field": "f", "type": "quantitative", "title": "drive frequency (MHz)", "axis": {"values": [0.808, 0.812, 0.816, 0.82], "format": ".3~f", "grid": true, "labelPadding": 7, "titlePadding": 8}},
        "y": {"field": "v", "type": "quantitative", "title": "Δ T (µK)", "axis": {"orient": "right", "values": [0,2,4,6,8,10,12,14], "grid": true, "gridColor": "#6fa8dc", "labelColor": "#1f7dc3", "titleColor": "#1f7dc3", "domainColor": "#9cc4e8", "labelPadding": 6, "titlePadding": 4}},
        "color": {"field": "s", "type": "ordinal", "scale": {"domain": ["1", "3"], "range": ["#282d91", "#6e3296"]}, "legend": {"title": null, "orient": "none", "legendX": -52, "legendY": -66, "symbolType": "stroke", "symbolSize": 400, "labelFontSize": 13, "labelFontStyle": "italic", "labelFontWeight": "bold", "labelColor": "#111111", "rowPadding": 1, "labelOffset": 6, "labelExpr": "'avg. with ± ' + datum.label + ' pt.'"}},
        "strokeWidth": {"field": "s", "type": "ordinal", "scale": {"domain": ["1", "3"], "range": [1.8, 4.5]}, "legend": {"title": null, "orient": "none", "legendX": -52, "legendY": -66, "symbolType": "stroke", "symbolSize": 400, "labelFontSize": 13, "labelFontStyle": "italic", "labelFontWeight": "bold", "labelColor": "#111111", "rowPadding": 1, "labelOffset": 6, "labelExpr": "'avg. with ± ' + datum.label + ' pt.'"}}}}
   ]}
  ]}
]
}
